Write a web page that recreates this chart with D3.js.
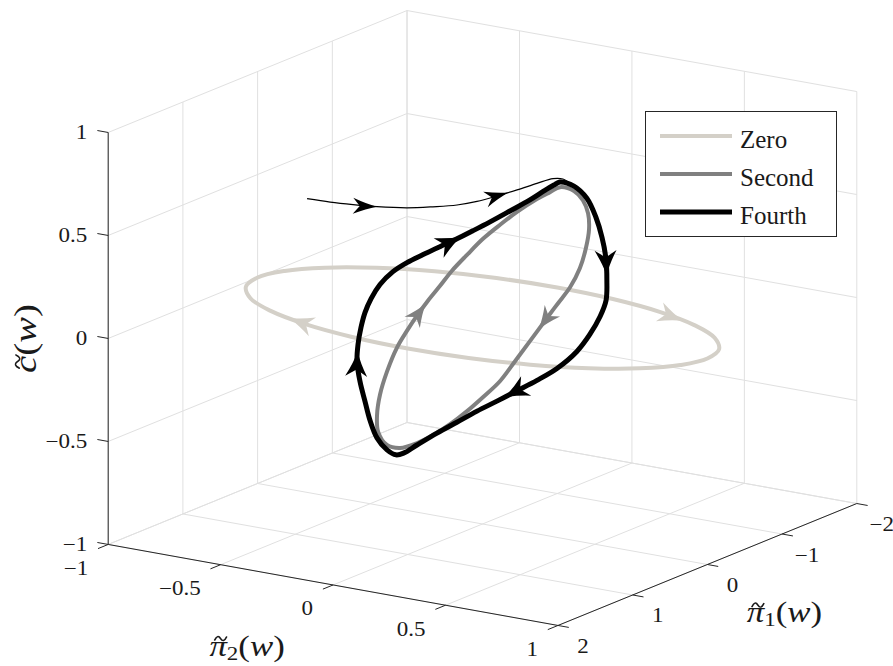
<!DOCTYPE html>
<html>
<head>
<meta charset="utf-8">
<script src="https://cdn.jsdelivr.net/npm/d3@7"></script>
<style>
  html, body { margin: 0; padding: 0; background: #fff; }
  svg { display: block; }
  text { font-family: "Liberation Serif", "DejaVu Serif", serif; fill: #1a1a1a; }
</style>
</head>
<body>
<svg id="chart" width="893" height="666" font-family="Liberation Serif, DejaVu Serif, serif"></svg>
<script>
/* ================================================
   Limit cycle approximations in (pi1, pi2, c) space
   ================================================ */

// ---- tick values ----
const piOneTicks = [-2, -1, 0, 1, 2];
const piTwoTicks = [-1, -0.5, 0, 0.5, 1];
const cTicks     = [-1, -0.5, 0, 0.5, 1];

const seriesNames = ['Zero', 'Second', 'Fourth'];

// ---- zero order (c stays at 0) ----
const zeroPi1 = [1, 0.966, 0.866, 0.707, 0.5, 0.259, 0, -0.259, -0.5, -0.707, -0.866, -0.966,
                 -1, -0.966, -0.866, -0.707, -0.5, -0.259, 0, 0.259, 0.5, 0.707, 0.866, 0.966];
const zeroPi2 = [0, -0.259, -0.5, -0.707, -0.866, -0.966, -1, -0.966, -0.866, -0.707, -0.5, -0.259,
                 0, 0.259, 0.5, 0.707, 0.866, 0.966, 1, 0.966, 0.866, 0.707, 0.5, 0.259];
const zeroC   = [0, 0, 0, 0, 0, 0, 0, 0, 0, 0, 0, 0, 0, 0, 0, 0, 0, 0, 0, 0, 0, 0, 0, 0];

// ---- second order ----
const secondPi1 = [-0.830, -0.620, -0.401, -0.176, 0.043, 0.257, 0.449, 0.583, 0.656, 0.711, 0.834, 0.925,
                   1.016, 1.033, 1.034, 1.012, 0.963, 0.887, 0.760, 0.575, 0.304, 0.072, -0.154, -0.374,
                   -0.574, -0.682, -0.764, -0.835, -0.895, -0.955, -0.994, -1.021, -1.012, -0.989, -0.933, -0.877];
const secondPi2 = [0.069, 0.201, 0.313, 0.411, 0.488, 0.545, 0.582, 0.583, 0.554, 0.532, 0.488, 0.452,
                   0.415, 0.345, 0.275, 0.192, 0.100, 0.004, -0.114, -0.234, -0.363, -0.445, -0.507, -0.549,
                   -0.571, -0.562, -0.545, -0.520, -0.486, -0.453, -0.399, -0.337, -0.258, -0.175, -0.068, 0.009];
const secondC   = [0.526, 0.564, 0.574, 0.563, 0.533, 0.484, 0.422, 0.350, 0.278, 0.223, 0.107, 0.016,
                   -0.075, -0.164, -0.245, -0.328, -0.406, -0.475, -0.541, -0.577, -0.579, -0.547, -0.495, -0.424,
                   -0.341, -0.273, -0.209, -0.142, -0.072, -0.001, 0.081, 0.167, 0.252, 0.334, 0.426, 0.483];

// ---- fourth order ----
const fourthPi1 = [-0.895, -0.685, -0.382, -0.034, 0.294, 0.612, 0.909, 1.158, 1.298, 1.420, 1.494, 1.490,
                   1.420, 1.327, 1.242, 1.147, 1.065, 0.982, 0.913, 0.870, 0.806, 0.640, 0.371, 0.071,
                   -0.232, -0.549, -0.843, -1.052, -1.239, -1.389, -1.504, -1.584, -1.607, -1.566, -1.490,
                   -1.402, -1.314, -1.238, -1.164, -1.081, -0.999, -0.958, -0.923];
const fourthPi2 = [0.047, 0.179, 0.337, 0.493, 0.629, 0.752, 0.855, 0.934, 0.954, 0.949, 0.916, 0.826,
                   0.714, 0.590, 0.477, 0.357, 0.240, 0.124, 0.012, -0.060, -0.117, -0.212, -0.346, -0.476,
                   -0.599, -0.727, -0.838, -0.903, -0.952, -0.984, -0.995, -0.982, -0.932, -0.856, -0.759,
                   -0.655, -0.550, -0.454, -0.353, -0.237, -0.121, -0.045, 0.011];
const fourthC   = [0.537, 0.574, 0.591, 0.581, 0.559, 0.528, 0.485, 0.440, 0.387, 0.317, 0.239, 0.138,
                   0.048, -0.043, -0.126, -0.212, -0.301, -0.389, -0.479, -0.538, -0.568, -0.587, -0.595, -0.582,
                   -0.559, -0.533, -0.501, -0.462, -0.417, -0.373, -0.324, -0.265, -0.196, -0.131, -0.062,
                   0.010, 0.082, 0.151, 0.225, 0.313, 0.402, 0.466, 0.511];

// ---- transient of the fourth order run, joining the cycle ----
const transPi1 = [0, -0.05, -0.10, -0.15, -0.21, -0.27, -0.33, -0.39, -0.45, -0.52, -0.59, -0.64, -0.67, -0.685];
const transPi2 = [-0.780, -0.694, -0.609, -0.519, -0.405, -0.310, -0.223, -0.154, -0.085, -0.019, 0.046, 0.101, 0.135, 0.179];
const transC   = [0.426, 0.419, 0.416, 0.416, 0.424, 0.439, 0.456, 0.478, 0.509, 0.541, 0.575, 0.602, 0.602, 0.574];

// ---- view ----
const view = { az: 123.6, el: 15.73, S: 540, Sz: 428, cx: 482.5, cy: 318 };
const rad = Math.PI / 180;

const xs = d3.scaleLinear().domain([-2, 2]).range([-0.5, 0.5]);
const ys = d3.scaleLinear().domain([-1, 1]).range([-0.5, 0.5]);
const zs = d3.scaleLinear().domain([-1, 1]).range([-0.5, 0.5]);

function project(p1, p2, c) {
  const X = xs(p1), Y = ys(p2), Z = zs(c);
  const ca = Math.cos(view.az * rad), sa = Math.sin(view.az * rad);
  const se = Math.sin(view.el * rad), ce = Math.cos(view.el * rad);
  return [
    view.cx + view.S * (X * ca + Y * sa),
    view.cy + view.S * se * (X * sa - Y * ca) - view.Sz * ce * Z
  ];
}

const svg = d3.select('#chart');
const gridG  = svg.append('g');
const axisG  = svg.append('g');
const curveG = svg.append('g');
const legG   = svg.append('g');

const GRID = '#e0e0e0', AX = '#262626';

function seg(g, a, b, color, w) {
  g.append('line')
    .attr('x1', a[0]).attr('y1', a[1]).attr('x2', b[0]).attr('y2', b[1])
    .attr('stroke', color).attr('stroke-width', w);
}

// ---- grid on the three back planes ----
piOneTicks.forEach(v => seg(gridG, project(v, -1, -1), project(v, 1, -1), GRID, 1));
piTwoTicks.forEach(v => seg(gridG, project(-2, v, -1), project(2, v, -1), GRID, 1));
piOneTicks.forEach(v => seg(gridG, project(v, -1, -1), project(v, -1, 1), GRID, 1));
cTicks.forEach(v => seg(gridG, project(-2, -1, v), project(2, -1, v), GRID, 1));
piTwoTicks.forEach(v => seg(gridG, project(-2, v, -1), project(-2, v, 1), GRID, 1));
cTicks.forEach(v => seg(gridG, project(-2, -1, v), project(-2, 1, v), GRID, 1));

// ---- axes ----
seg(axisG, project(2, -1, -1), project(2, -1, 1), AX, 1);
seg(axisG, project(2, -1, -1), project(2, 1, -1), AX, 1);
seg(axisG, project(2, 1, -1), project(-2, 1, -1), AX, 1);

const fmt = v => (v < 0 ? '\u2212' : '') + Math.abs(v);
const TICK = 11;

function tickDir(a, b) {
  const dx = b[0] - a[0], dy = b[1] - a[1], n = Math.hypot(dx, dy);
  return [dx / n * TICK, dy / n * TICK];
}

function tickLabel(x, y, anchor, v) {
  axisG.append('text')
    .attr('transform', `translate(${x},${y}) scale(1.15,1)`)
    .attr('text-anchor', anchor).attr('dominant-baseline', 'central')
    .attr('font-size', 20).text(fmt(v));
}

cTicks.forEach(v => {
  const p = project(2, -1, v), d = tickDir(p, project(2, -1.2, v));
  seg(axisG, p, [p[0] + d[0], p[1] + d[1]], AX, 1);
  tickLabel(p[0] - 21, p[1], 'end', v);
});

piTwoTicks.forEach(v => {
  const p = project(2, v, -1), d = tickDir(p, project(2.4, v, -1));
  seg(axisG, p, [p[0] + d[0], p[1] + d[1]], AX, 1);
  tickLabel(p[0] - 20, p[1] + 24, 'end', v);
});

piOneTicks.forEach(v => {
  const p = project(v, 1, -1), d = tickDir(p, project(v, 1.2, -1));
  seg(axisG, p, [p[0] + d[0], p[1] + d[1]], AX, 1);
  tickLabel(p[0] + 25, p[1] + 21, 'middle', v);
});

// ---- axis labels (symbol with a tilde, optional subscript, then (w)) ----
function mathLabel(g, x, y, sym, sub, rot, size, stretch) {
  const lg = g.append('g')
    .attr('transform', `translate(${x},${y})` + (rot ? ` rotate(${rot})` : '') + ` scale(${stretch},1)`);
  const t = lg.append('text').attr('text-anchor', 'middle').attr('font-size', size);
  t.append('tspan').attr('font-style', 'italic').text(sym);
  if (sub) {
    t.append('tspan').attr('font-size', size * 0.66).attr('dy', 4).text(sub);
    t.append('tspan').attr('dy', -4).text('(');
  } else {
    t.append('tspan').text('(');
  }
  t.append('tspan').attr('font-style', 'italic').text('w');
  t.append('tspan').text(')');

  // tilde accent over the first glyph
  const node = t.node();
  const cx = (node.getStartPositionOfChar(0).x + node.getEndPositionOfChar(0).x) / 2 + size * 0.07;
  const cy = -size * 0.6;
  const hw = size * 0.17, amp = size * 0.09;
  lg.append('path')
    .attr('d', `M${cx - hw},${cy + amp * 0.6} Q${cx - hw / 2},${cy - amp * 1.8} ${cx},${cy} ` +
               `Q${cx + hw / 2},${cy + amp * 1.8} ${cx + hw},${cy - amp * 0.6}`)
    .attr('fill', 'none').attr('stroke', '#1a1a1a').attr('stroke-width', 1.4)
    .attr('stroke-linecap', 'round');
}

const mZ  = project(2, -1, 0);
const mP2 = project(2, 0, -1);
const mP1 = project(0, 1, -1);
mathLabel(axisG, mZ[0] - 72, mZ[1], 'c', null, -90, 31, 1.25);
mathLabel(axisG, mP2[0] - 86, mP2[1] + 71, '\u03C0', '2', 0, 29, 1.2);
mathLabel(axisG, mP1[0] + 77, mP1[1] + 58, '\u03C0', '1', 0, 29, 1.2);

// ---- curves ----
const series = [
  { pi1: zeroPi1,   pi2: zeroPi2,   c: zeroC,   color: '#d4d0c8', width: 4,   closed: true,
    arrows: [2.47, 14.67], head: [25, 10] },
  { pi1: secondPi1, pi2: secondPi2, c: secondC, color: '#808080', width: 4,   closed: true,
    arrows: [9.54, 26.8], head: [23, 9.5] },
  { pi1: fourthPi1, pi2: fourthPi2, c: fourthC, color: '#000000', width: 5,   closed: true,
    arrows: [5.77, 13.63, 26.59, 36.25], head: [25, 11] },
  { pi1: transPi1,  pi2: transPi2,  c: transC,  color: '#000000', width: 1.2, closed: false,
    arrows: [3, 8.57], head: [24, 8] }
];

const lineClosed = d3.line().curve(d3.curveCatmullRomClosed.alpha(0.5));
const lineOpen   = d3.line().curve(d3.curveCatmullRom.alpha(0.5));

function arrowPath(L, w) {
  return `M0,0 Q${-0.45 * L},${-0.3 * w} ${-L},${-w} L${-0.72 * L},0 L${-L},${w} Q${-0.45 * L},${0.3 * w} 0,0 Z`;
}

series.forEach(s => {
  const pts = s.pi1.map((v, i) => project(v, s.pi2[i], s.c[i]));
  curveG.append('path')
    .attr('d', (s.closed ? lineClosed : lineOpen)(pts))
    .attr('fill', 'none').attr('stroke', s.color).attr('stroke-width', s.width)
    .attr('stroke-linejoin', 'round');

  const n = pts.length;
  s.arrows.forEach(f => {
    const i = Math.floor(f), t = f - i;
    const a = pts[i % n], b = pts[(i + 1) % n];
    const x = a[0] + (b[0] - a[0]) * t, y = a[1] + (b[1] - a[1]) * t;
    const ang = Math.atan2(b[1] - a[1], b[0] - a[0]) / rad;
    curveG.append('path')
      .attr('d', arrowPath(s.head[0], s.head[1]))
      .attr('transform', `translate(${x},${y}) rotate(${ang})`)
      .attr('fill', s.color);
  });
});

// ---- legend ----
legG.append('rect')
  .attr('x', 645.5).attr('y', 111.5).attr('width', 191).attr('height', 125)
  .attr('fill', '#fff').attr('stroke', AX).attr('stroke-width', 1);

seriesNames.forEach((name, i) => {
  const y = 136 + i * 38;
  legG.append('line')
    .attr('x1', 660).attr('x2', 732).attr('y1', y).attr('y2', y)
    .attr('stroke', series[i].color).attr('stroke-width', series[i].width);
  legG.append('text')
    .attr('x', 740).attr('y', y + 12)
    .attr('font-size', 25).attr('fill', '#000').text(name);
});
</script>
</body>
</html>
